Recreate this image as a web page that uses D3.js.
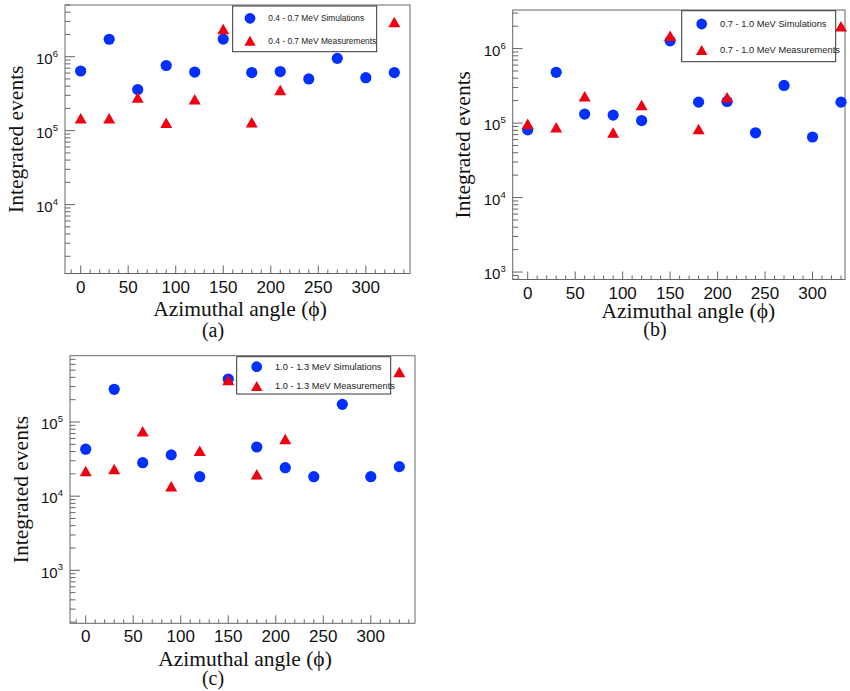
<!DOCTYPE html>
<html>
<head>
<meta charset="utf-8">
<script src="https://cdn.jsdelivr.net/npm/d3@7"></script>
<style>
  body { margin: 0; background: #fff; }
  svg { display: block; }
</style>
</head>
<body>
<div id="chart"></div>
<script>
// azimuthal angles (deg)
var angles = [0, 30, 60, 90, 120, 150, 180, 210, 240, 270, 300, 330];
var measAngles = [0, 30, 60, 90, 120, 150, 180, 210, 330];

// (a) 0.4 - 0.7 MeV
var simA = [6.4e5, 1.72e6, 3.6e5, 7.6e5, 6.2e5, 1.73e6, 6.1e5, 6.3e5, 5.0e5, 9.5e5, 5.2e5, 6.1e5];
var measA = [1.47e5, 1.47e5, 2.8e5, 1.28e5, 2.65e5, 2.37e6, 1.3e5, 3.55e5, 2.94e6];
// (b) 0.7 - 1.0 MeV
var simB = [8.1e4, 4.8e5, 1.32e5, 1.28e5, 1.08e5, 1.27e6, 1.91e5, 1.95e5, 7.4e4, 3.2e5, 6.5e4, 1.91e5];
var measB = [9.8e4, 8.8e4, 2.3e5, 7.5e4, 1.75e5, 1.49e6, 8.3e4, 2.23e5, 2.0e6];
// (c) 1.0 - 1.3 MeV
var simC = [4.3e4, 2.76e5, 2.83e4, 3.6e4, 1.83e4, 3.8e5, 4.6e4, 2.42e4, 1.83e4, 1.73e5, 1.83e4, 2.5e4];
var measC = [2.19e4, 2.33e4, 7.5e4, 1.36e4, 4.1e4, 3.68e5, 1.97e4, 5.9e4, 4.72e5];

var bands = ["0.4 - 0.7 MeV", "0.7 - 1.0 MeV", "1.0 - 1.3 MeV"];
var tags = ["(a)", "(b)", "(c)"];
var xTicks = [0, 50, 100, 150, 200, 250, 300];
var xTitle = "Azimuthal angle (\u03d5)";
var yTitle = "Integrated events";

var blue = "#0030ff", red = "#f00010", axisCol = "#666";
var sans = "'Liberation Sans', Arial, Helvetica, sans-serif";
var serif = "'Liberation Serif', 'Times New Roman', Times, serif";

var svg = d3.select("#chart").append("svg")
    .attr("width", 850).attr("height", 691);

var panels = [
  { sim: simA, meas: measA, band: bands[0], tag: tags[0],
    x0: 65, x1: 410, y0: 5, y1: 273.5,
    xDom: [-16.5, 346.5], yDom: [Math.pow(10, 3.068), Math.pow(10, 6.699)],
    leg: { x: 232.7, y: 6, w: 144, h: 45.7, m1: 12.3, m2: 34.7, mx: 17.3, tx: 35.6, fs: 8.4 },
    ytx: 22.7, xt: [240, 316], tg: [213, 337] },
  { sim: simB, meas: measB, band: bands[1], tag: tags[1],
    x0: 512.7, x1: 845, y0: 10, y1: 279.5,
    xDom: [-15.8, 334.2], yDom: [Math.pow(10, 2.9), Math.pow(10, 6.518)],
    leg: { x: 681.7, y: 10.7, w: 154, h: 51, m1: 13.3, m2: 39.3, mx: 20, tx: 38.3, fs: 9.3 },
    ytx: 470, xt: [688.3, 318], tg: [655, 336] },
  { sim: simC, meas: measC, band: bands[2], tag: tags[2],
    x0: 70, x1: 415, y0: 355.7, y1: 623.3,
    xDom: [-16.5, 346.5], yDom: [Math.pow(10, 2.286), Math.pow(10, 5.894)],
    leg: { x: 236.7, y: 356.7, w: 154, h: 37.3, m1: 10, m2: 29.3, mx: 20, tx: 38.3, fs: 9.3 },
    ytx: 28.3, xt: [245, 666], tg: [213, 684.5] }
];

function triPath(cx, cy, w, h) {
  return "M" + (cx - w / 2) + "," + (cy + h / 2) + "L" + (cx + w / 2) + "," + (cy + h / 2) +
         "L" + cx + "," + (cy - h / 2) + "Z";
}

panels.forEach(function (p) {
  var x = d3.scaleLinear().domain(p.xDom).range([p.x0, p.x1]);
  var y = d3.scaleLog().domain(p.yDom).range([p.y1, p.y0]);
  var g = svg.append("g");

  // x ticks every 10 deg, longer every 50
  var minorX = d3.range(-10, 350, 10).filter(function (v) { return v >= p.xDom[0] && v <= p.xDom[1]; });
  g.selectAll(".xmin").data(minorX).enter().append("line")
      .attr("x1", d => x(d)).attr("x2", d => x(d))
      .attr("y1", p.y1).attr("y2", d => p.y1 - (d % 50 === 0 ? 8 : 4))
      .attr("stroke", axisCol).attr("stroke-width", 1);

  // log y ticks
  var lo = Math.floor(Math.log10(p.yDom[0])), hi = Math.ceil(Math.log10(p.yDom[1]));
  var minorY = [], majorY = [];
  for (var e = lo; e <= hi; e++) {
    for (var k = 1; k <= 9; k++) {
      var v = k * Math.pow(10, e);
      if (v < p.yDom[0] || v > p.yDom[1]) continue;
      if (k === 1) majorY.push(e); else minorY.push(v);
    }
  }
  g.selectAll(".ymin").data(minorY).enter().append("line")
      .attr("x1", p.x0).attr("x2", p.x0 + 5.5)
      .attr("y1", d => y(d)).attr("y2", d => y(d))
      .attr("stroke", axisCol).attr("stroke-width", 1);
  g.selectAll(".ymaj").data(majorY).enter().append("line")
      .attr("x1", p.x0).attr("x2", p.x0 + 10)
      .attr("y1", d => y(Math.pow(10, d))).attr("y2", d => y(Math.pow(10, d)))
      .attr("stroke", axisCol).attr("stroke-width", 1);

  // frame
  g.append("rect")
      .attr("x", p.x0).attr("y", p.y0)
      .attr("width", p.x1 - p.x0).attr("height", p.y1 - p.y0)
      .attr("fill", "none").attr("stroke", axisCol).attr("stroke-width", 1);

  // x tick labels
  g.selectAll(".xl").data(xTicks).enter().append("text")
      .attr("x", d => x(d)).attr("y", p.y1 + 19)
      .attr("text-anchor", "middle")
      .attr("font-family", sans).attr("font-size", 17).attr("fill", "#111")
      .text(d => d);

  // y tick labels 10^n
  var yl = g.selectAll(".yl").data(majorY).enter().append("text")
      .attr("x", p.x0 - 7).attr("y", d => y(Math.pow(10, d)) + 7.3)
      .attr("text-anchor", "end")
      .attr("font-family", sans).attr("fill", "#111");
  yl.append("tspan").attr("font-size", 15).text("10");
  yl.append("tspan").attr("font-size", 9.5).attr("dy", -7.3).text(d => d);

  // axis titles
  g.append("text")
      .attr("transform", "translate(" + p.ytx + "," + ((p.y0 + p.y1) / 2) + ") rotate(-90)")
      .attr("text-anchor", "middle")
      .attr("font-family", serif).attr("font-size", 21.5).attr("fill", "#111")
      .text(yTitle);
  g.append("text")
      .attr("x", p.xt[0]).attr("y", p.xt[1])
      .attr("text-anchor", "middle")
      .attr("font-family", serif).attr("font-size", 21.5).attr("fill", "#111")
      .text(xTitle);
  g.append("text")
      .attr("x", p.tg[0]).attr("y", p.tg[1])
      .attr("text-anchor", "middle")
      .attr("font-family", serif).attr("font-size", 20).attr("fill", "#111")
      .text(p.tag);

  // simulations
  g.selectAll(".sim").data(p.sim).enter().append("circle")
      .attr("cx", (d, i) => x(angles[i])).attr("cy", d => y(d))
      .attr("r", 5.6).attr("fill", blue);
  // measurements
  g.selectAll(".meas").data(p.meas).enter().append("path")
      .attr("d", (d, i) => triPath(x(measAngles[i]), y(d), 12, 10.5))
      .attr("fill", red);

  // legend
  var L = p.leg;
  g.append("rect")
      .attr("x", L.x).attr("y", L.y).attr("width", L.w).attr("height", L.h)
      .attr("fill", "#fff").attr("stroke", "#333").attr("stroke-width", 1);
  g.append("circle")
      .attr("cx", L.x + L.mx).attr("cy", L.y + L.m1).attr("r", 5.4).attr("fill", blue);
  g.append("path")
      .attr("d", triPath(L.x + L.mx, L.y + L.m2, 11.5, 10)).attr("fill", red);
  g.append("text")
      .attr("x", L.x + L.tx).attr("y", L.y + L.m1).attr("dy", "0.35em")
      .attr("font-family", sans).attr("font-size", L.fs).attr("fill", "#222")
      .text(p.band + " Simulations");
  g.append("text")
      .attr("x", L.x + L.tx).attr("y", L.y + L.m2).attr("dy", "0.35em")
      .attr("font-family", sans).attr("font-size", L.fs).attr("fill", "#222")
      .text(p.band + " Measurements");
});
</script>
</body>
</html>
